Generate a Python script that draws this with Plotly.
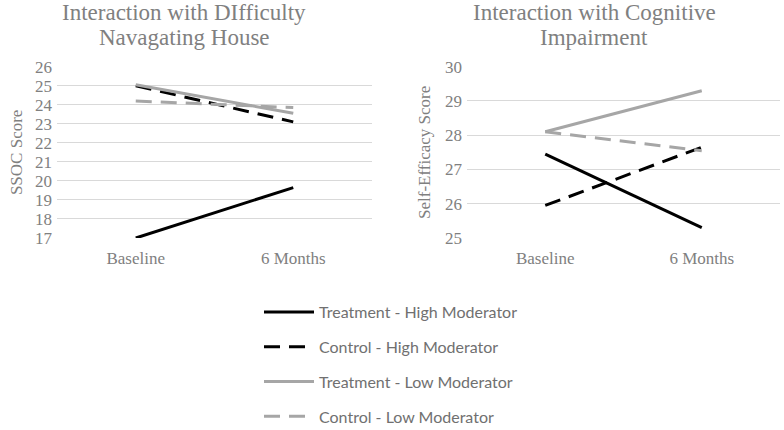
import plotly.graph_objects as go
from plotly.subplots import make_subplots

# Data
time_points = ["Baseline", "6 Months"]
series_names = ["Treatment - High Moderator", "Control - High Moderator",
                "Treatment - Low Moderator", "Control - Low Moderator"]

# Left panel: difficulty navigating house (SSOC score)
house_treat_high = [17.0, 19.65]
house_ctrl_high = [25.0, 23.1]
house_treat_low = [25.05, 23.55]
house_ctrl_low = [24.2, 23.85]

# Right panel: cognitive impairment (self-efficacy score)
cog_treat_high = [27.45, 25.3]
cog_ctrl_high = [25.95, 27.65]
cog_treat_low = [28.1, 29.3]
cog_ctrl_low = [28.1, 27.55]

# Panel titles, one entry per line
left_title = ["Interaction with DIfficulty", "Navagating House"]
right_title = ["Interaction with Cognitive", "Impairment"]

styles = [
    dict(color="#000000", width=3, dash="solid"),
    dict(color="#000000", width=3, dash="16px,9px"),
    dict(color="#a6a6a6", width=3, dash="solid"),
    dict(color="#a6a6a6", width=3, dash="16px,9px"),
]

serif = "Liberation Serif"
gray = "#808080"

fig = make_subplots(rows=1, cols=2)

left = [house_treat_high, house_ctrl_high, house_treat_low, house_ctrl_low]
right = [cog_treat_high, cog_ctrl_high, cog_treat_low, cog_ctrl_low]

for i, name in enumerate(series_names):
    fig.add_trace(go.Scatter(x=time_points, y=left[i], mode="lines", name=name,
                             line=styles[i], legendgroup=name, showlegend=True), row=1, col=1)
    fig.add_trace(go.Scatter(x=time_points, y=right[i], mode="lines", name=name,
                             line=styles[i], legendgroup=name, showlegend=False), row=1, col=2)

y0 = 1 - 238 / 430
y1 = 1 - 66.7 / 430

fig.update_xaxes(showgrid=False, zeroline=False, showline=False, ticks="", ticklabelstandoff=8,
                 automargin=False, tickfont=dict(family=serif, size=17, color=gray))
fig.update_yaxes(showgrid=True, gridcolor="#d9d9d9", gridwidth=1, zeroline=False,
                 showline=False, ticks="", ticklabelstandoff=4, automargin=False,
                 tickfont=dict(family=serif, size=17, color=gray))

# Titles as separate lines to get the tighter line spacing
title_annots = []
for lines, cx in [(left_title, 184), (right_title, 594)]:
    for j, line in enumerate(lines):
        title_annots.append(dict(
            text=line, x=cx / 784, y=1 - (13 + 25 * j) / 430,
            xref="paper", yref="paper", xanchor="center", yanchor="middle", showarrow=False,
            font=dict(family=serif, size=23, color=gray)))

fig.update_layout(
    xaxis=dict(domain=[57 / 784, 372 / 784], range=[-0.5, 1.5]),
    xaxis2=dict(domain=[467 / 784, 780 / 784], range=[-0.5, 1.5]),
    yaxis=dict(domain=[y0, y1], range=[17, 26], dtick=1,
               title=dict(text="SSOC Score", font=dict(family=serif, size=17, color=gray), standoff=8)),
    yaxis2=dict(domain=[y0, y1], range=[25, 30], dtick=1,
                title=dict(text="Self-Efficacy Score", font=dict(family=serif, size=17, color=gray), standoff=10)),
    width=784, height=430,
    margin=dict(l=0, r=0, t=0, b=0, autoexpand=False),
    plot_bgcolor="white", paper_bgcolor="white",
    showlegend=True,
    legend=dict(x=259 / 784, y=-4 / 430, xanchor="left", yanchor="bottom", itemwidth=50,
                tracegroupgap=11, font=dict(family="Lato", size=16, color="#707070"),
                bgcolor="rgba(0,0,0,0)"),
    annotations=title_annots,
)

fig.write_html("out.html", config={"displayModeBar": False},
               post_script="document.body.style.margin='0';")
